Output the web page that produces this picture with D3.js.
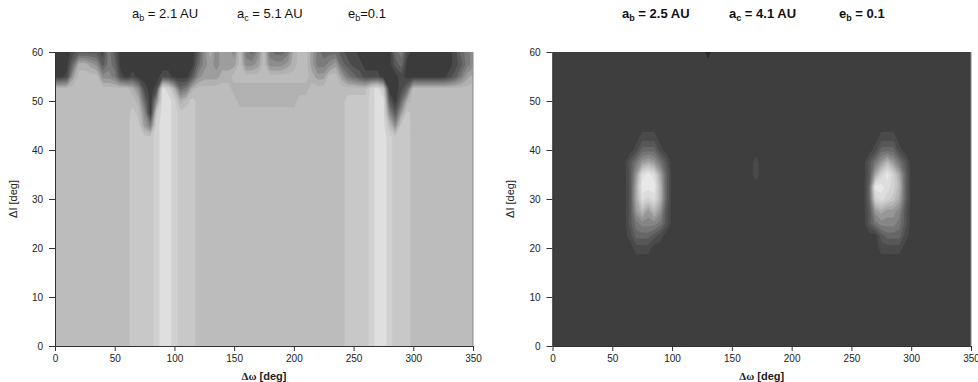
<!DOCTYPE html>
<html>
<head>
<meta charset="utf-8">
<script src="https://cdn.jsdelivr.net/npm/d3@7"></script>
<style>
  body { margin: 0; background: #fff; }
  svg { display: block; font-family: "Liberation Sans", Arial, sans-serif; }
</style>
</head>
<body>
<svg id="chart" width="978" height="382"></svg>
<script>
// Δω grid: columns every 5 deg from 0 to 350; ΔI rows listed per panel.
// One hex digit per cell = contour level.
const omegaMax = 350;
const omegaTicks = [0, 50, 100, 150, 200, 250, 300, 350];
const inclTicks = [0, 10, 20, 30, 40, 50, 60];

const leftTitle = [['a', 'b', ' = 2.1 AU'], ['a', 'c', ' = 5.1 AU'], ['e', 'b', '=0.1']];
const rightTitle = [['a', 'b', ' = 2.5 AU'], ['a', 'c', ' = 4.1 AU'], ['e', 'b', ' = 0.1']];

const leftRowsY = [0, 40, 42.5, 45, 47.5, 50, 52.5, 55, 57.5, 60];
const leftGrid = [
  '8888888888 8889999abb a999888888 8888888888 8888888889 999abba999 8888888888 8',
  '8888888888 8889999abb a999888888 8888888888 8888888889 999abba999 8888888888 8',
  '8888888888 8889999abb a999888888 8888888888 8888888889 999abba999 8888888888 8',
  '8888888888 8889964abb a999888888 8888888888 8888888889 999abb8599 8888888888 8',
  '8888888888 88898509bb a999888888 8888888888 8888888889 999abb5269 8888888888 8',
  '8888888888 88887305bb a789888888 8777777777 7888888889 999abb2037 8888888888 8',
  '8888888888 88875101ba 7347888888 7777777777 7778888888 888ab90013 8888888888 8',
  '0016888855 4101000011 0002566677 8888888888 8887668864 3211100010 0000001246 7',
  '0003776524 3000000000 0000356566 6855685556 7886445632 1100000230 0000000124 5',
  '0001222214 2000000000 0000257566 5843584334 7886433321 1000000341 0000000134 5'
];

const rightRowsY = [0, 17.5, 20, 22.5, 25, 27.5, 30, 32.5, 35, 37.5, 40, 42.5, 45, 57.5, 60];
const rightGrid = [
  '1111111111 1111111111 1111111111 1111111111 1111111111 1111111111 1111111111 1',
  '1111111111 1111111111 1111111111 1111111111 1111111111 1111111111 1111111111 1',
  '1111111111 1111222111 1111111111 1111111111 1111111111 1111122221 1111111111 1',
  '1111111111 1112444321 1111111111 1111111111 1111111111 1111134442 1111111111 1',
  '1111111111 1113566653 1111111111 1111111111 1111111111 1113566653 1111111111 1',
  '1111111111 1113797973 1111111111 1111111111 1111111111 1113787763 1111111111 1',
  '1111111111 11138cbc94 1111111111 1111111111 1111111111 1114bcba84 1111111111 1',
  '1111111111 11138ddd94 1111111111 1111111111 1111111111 1114ddcb94 1111111111 1',
  '1111111111 11137cdc84 1111111111 1111211111 1111111111 11138bdb84 1111111111 1',
  '1111111111 1113578753 1111111111 1111211111 1111111111 1113579753 1111111111 1',
  '1111111111 1111244421 1111111111 1111111111 1111111111 1111244421 1111111111 1',
  '1111111111 1111122211 1111111111 1111111111 1111111111 1111122211 1111111111 1',
  '1111111111 1111111111 1111111111 1111111111 1111111111 1111111111 1111111111 1',
  '1111111111 1111111111 1111111111 1111111111 1111111111 1111111111 1111111111 1',
  '1111111111 1111111111 1111110111 1111111111 1111111111 1111111111 1111111111 1'
];

const leftShades = ['#3b3b3b', '#4a4a4a', '#5a5a5a', '#6a6a6a', '#7b7b7b', '#8c8c8c',
  '#9d9d9d', '#b1b1b1', '#bcbcbc', '#c8c8c8', '#d1d1d1', '#dfdfdf'];
const rightShades = ['#272727', '#3e3e3e', '#4a4a4a', '#575757', '#666666', '#767676', '#868686',
  '#979797', '#a8a8a8', '#b8b8b8', '#c6c6c6', '#d2d2d2', '#dddddd', '#e8e8e8'];

const svg = d3.select('#chart');

function drawPanel(cfg) {
  const rows = cfg.grid.map(r => r.replace(/ /g, ''));
  const nx = rows[0].length, ny = rows.length;
  const values = [];
  rows.forEach(r => { for (const ch of r) values.push(parseInt(ch, 16)); });

  const x = d3.scaleLinear().domain([0, 350]).range([cfg.left, cfg.right]);
  const y = d3.scaleLinear().domain([0, 60]).range([cfg.bottom, cfg.top]);
  const colToOmega = d3.scaleLinear().domain([0, nx - 1]).range([0, omegaMax]);
  const rowToIncl = d3.scaleLinear().domain(d3.range(ny)).range(cfg.rowsY);

  const proj = d3.geoTransform({
    point(px, py) { this.stream.point(x(colToOmega(px - 0.5)), y(rowToIncl(py - 0.5))); }
  });
  const path = d3.geoPath(proj);

  const g = svg.append('g');
  const clipId = 'clip-' + cfg.id;
  g.append('clipPath').attr('id', clipId).append('rect')
    .attr('x', cfg.left).attr('y', cfg.top)
    .attr('width', cfg.right - cfg.left).attr('height', cfg.bottom - cfg.top);

  const plot = g.append('g').attr('clip-path', `url(#${clipId})`);
  plot.append('rect')
    .attr('x', cfg.left).attr('y', cfg.top)
    .attr('width', cfg.right - cfg.left).attr('height', cfg.bottom - cfg.top)
    .attr('fill', cfg.shades[0]);

  const thresholds = d3.range(0.5, cfg.shades.length - 1, 1);
  const contours = d3.contours().size([nx, ny]).thresholds(thresholds)(values);
  plot.selectAll('path').data(contours).enter().append('path')
    .attr('d', path)
    .attr('fill', d => cfg.shades[Math.round(d.value + 0.5)]);

  // right frame line
  g.append('line')
    .attr('x1', cfg.right).attr('x2', cfg.right)
    .attr('y1', cfg.top).attr('y2', cfg.bottom)
    .attr('stroke', '#8a8a8a').attr('stroke-width', 1);

  const xAxis = g.append('g')
    .attr('transform', `translate(0,${cfg.bottom})`)
    .call(d3.axisBottom(x).tickValues(omegaTicks).tickSize(5).tickSizeOuter(0).tickPadding(4));
  const yAxis = g.append('g')
    .attr('transform', `translate(${cfg.left},0)`)
    .call(d3.axisLeft(y).tickValues(inclTicks).tickSize(6).tickSizeOuter(0).tickPadding(6));
  [xAxis, yAxis].forEach(a => {
    a.select('.domain').attr('stroke', '#333');
    a.selectAll('.tick line').attr('stroke', '#333');
    a.selectAll('.tick text').attr('fill', '#222')
      .style('font-family', '"Liberation Sans", Arial, sans-serif').style('font-size', '10px');
  });

  const midX = (cfg.left + cfg.right) / 2;
  const xl = g.append('text')
    .attr('x', midX).attr('y', 380)
    .attr('text-anchor', 'middle')
    .attr('font-size', 11).attr('font-weight', 'bold').attr('fill', '#222');
  xl.append('tspan').attr('font-family', '"Liberation Serif", "DejaVu Serif", serif').text('Δω');
  xl.append('tspan').text(' [deg]');

  g.append('text')
    .attr('transform', `translate(${cfg.yLabelX},${(cfg.top + cfg.bottom) / 2}) rotate(-90)`)
    .attr('text-anchor', 'middle')
    .attr('font-size', 11).attr('fill', '#222')
    .text('ΔI [deg]');

  cfg.title.forEach((part, i) => {
    const t = g.append('text')
      .attr('x', cfg.titleX[i]).attr('y', 18)
      .attr('font-size', 13).attr('fill', '#111')
      .attr('font-weight', cfg.titleBold ? 'bold' : 'normal');
    t.append('tspan').text(part[0]);
    t.append('tspan').attr('dy', 3).attr('font-size', 9).text(part[1]);
    t.append('tspan').attr('dy', -3).text(part[2]);
  });
}

drawPanel({
  id: 'left', grid: leftGrid, rowsY: leftRowsY, shades: leftShades,
  left: 55, right: 473, top: 52, bottom: 346, yLabelX: 17,
  title: leftTitle, titleX: [132, 237, 348], titleBold: false
});
drawPanel({
  id: 'right', grid: rightGrid, rowsY: rightRowsY, shades: rightShades,
  left: 552.5, right: 971, top: 52, bottom: 346, yLabelX: 514,
  title: rightTitle, titleX: [622, 729, 839], titleBold: true
});
</script>
</body>
</html>
